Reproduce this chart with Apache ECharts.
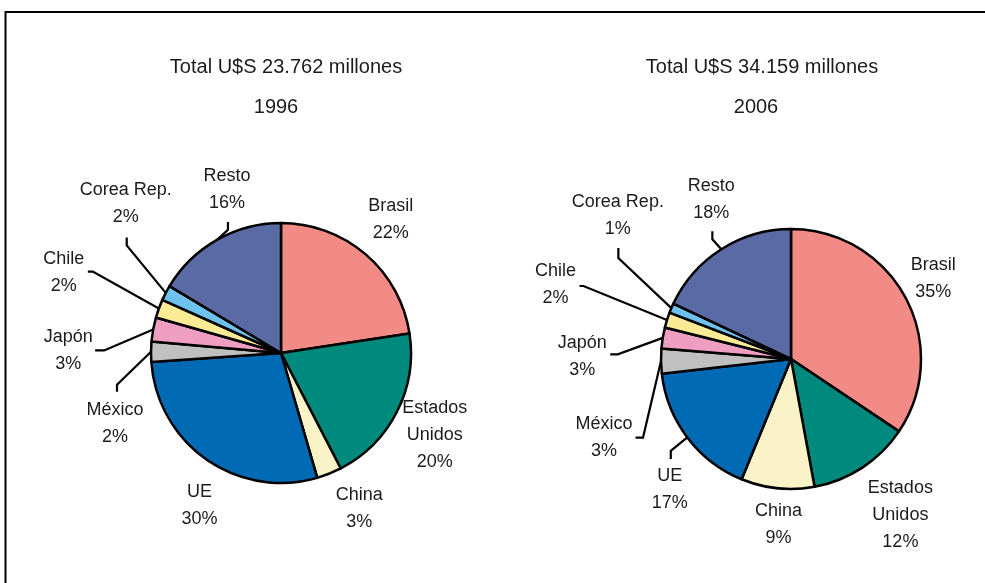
<!DOCTYPE html>
<html>
<head>
<meta charset="utf-8">
<script src="https://cdn.jsdelivr.net/npm/echarts@6/dist/echarts.min.js"></script>
<style>
  html, body { margin: 0; padding: 0; background: #fff; }
  #chart { width: 985px; height: 583px; }
</style>
</head>
<body>
<div id="chart"></div>
<script>
const categories = ['Brasil', 'Estados Unidos', 'China', 'UE', 'México', 'Japón', 'Chile', 'Corea Rep.', 'Resto']
// slice shares (%)
const share1996 = [22.6, 19.8, 3.1, 28.4, 2.5, 3.0, 2.3, 1.9, 16.4]
const share2006 = [34.4, 12.7, 9.1, 17.0, 3.1, 2.6, 1.9, 1.2, 18.0]
// percentages printed on the labels
const pct1996 = [22, 20, 3, 30, 2, 3, 2, 2, 16]
const pct2006 = [35, 12, 9, 17, 3, 3, 2, 1, 18]
const totals = ['23.762', '34.159']
const years = ['1996', '2006']

const colors = ['#F28A85', '#00897D', '#FAF3C8', '#006AB5', '#C0C0C0', '#EE9FC1', '#FBEB95', '#6EC2EE', '#5A6AA4']
const FONT = "'Liberation Sans', Arial, sans-serif"
const TXT = '#1b1b1b'

// leader line segments (relative to the slice edge) and label offsets
const lead1996 = [
  { off: [25, -35] },
  { off: [38, 23] },
  { off: [30, 35] },
  { off: [-7, 46] },
  { line: [[-34, 33], [0, 7]], off: [-2, 31.5] },
  { line: [[-49, 21], [-9, 0]], off: [-27, 0] },
  { line: [[-66, -37], [-5, 0]], off: [-24, 0.5] },
  { line: [[-39, -47.5], [0, -8]], off: [-1, -33.5] },
  { line: [[11, -10], [0, -8]], off: [-1, -32] }
]
const lead2006 = [
  { off: [27.5, -19] },
  { off: [38, 47] },
  { off: [1, 36] },
  { line: [[-16.5, 13.5], [0, 8]], off: [-1, 31] },
  { line: [[-18, 76.5], [-7.5, 0]], off: [-31.5, -0.5] },
  { line: [[-45, 16.5], [-7.5, 0]], off: [-28, 2.5] },
  { line: [[-83.5, -34], [-4, 0]], off: [-24, -1] },
  { line: [[-53, -50], [0, -10]], off: [-0.5, -32.5] },
  { line: [[-9, -10], [0, -8]], off: [-1, -32] }
]

function layoutFor(spec) {
  return function (params) {
    const s = spec[params.dataIndex]
    const p1 = params.labelLinePoints[0]
    let end = [p1[0], p1[1]]
    const pts = [end]
    if (s.line) {
      s.line.forEach(function (v) {
        end = [end[0] + v[0], end[1] + v[1]]
        pts.push(end)
      })
    } else {
      pts.push(end.slice(), end.slice())
    }
    return {
      x: end[0] + s.off[0],
      y: end[1] + s.off[1],
      align: 'center',
      verticalAlign: 'middle',
      labelLinePoints: pts
    }
  }
}

function makeSeries(shares, pct, lead, center) {
  return {
    type: 'pie',
    center: center,
    radius: 130,
    startAngle: 90,
    clockwise: true,
    avoidLabelOverlap: false,
    silent: true,
    data: categories.map(function (name, i) {
      return { name: name, value: shares[i], itemStyle: { color: colors[i] } }
    }),
    itemStyle: { borderColor: '#000', borderWidth: 2.5 },
    label: {
      show: true,
      position: 'outside',
      color: TXT,
      fontFamily: FONT,
      fontSize: 18,
      lineHeight: 27,
      formatter: function (p) {
        return p.name.replace('Estados ', 'Estados\n') + '\n' + pct[p.dataIndex] + '%'
      }
    },
    labelLine: { show: true, length: 10, length2: 10, lineStyle: { color: '#000', width: 2.2 } },
    labelLayout: layoutFor(lead)
  }
}

const chart = echarts.init(document.getElementById('chart'))
chart.setOption({
  animation: false,
  graphic: [
    { type: 'rect', shape: { x: 5.5, y: 12, width: 1000, height: 600 }, style: { fill: 'none', stroke: '#000', lineWidth: 2 } },
    { type: 'text', x: 286, y: 67, style: { text: 'Total U$S ' + totals[0] + ' millones', align: 'center', verticalAlign: 'middle', font: '20px ' + FONT, fill: TXT } },
    { type: 'text', x: 276, y: 107, style: { text: years[0], align: 'center', verticalAlign: 'middle', font: '20px ' + FONT, fill: TXT } },
    { type: 'text', x: 762, y: 67, style: { text: 'Total U$S ' + totals[1] + ' millones', align: 'center', verticalAlign: 'middle', font: '20px ' + FONT, fill: TXT } },
    { type: 'text', x: 756, y: 107, style: { text: years[1], align: 'center', verticalAlign: 'middle', font: '20px ' + FONT, fill: TXT } }
  ],
  series: [
    makeSeries(share1996, pct1996, lead1996, [281, 353]),
    makeSeries(share2006, pct2006, lead2006, [791, 359])
  ]
})
</script>
</body>
</html>
